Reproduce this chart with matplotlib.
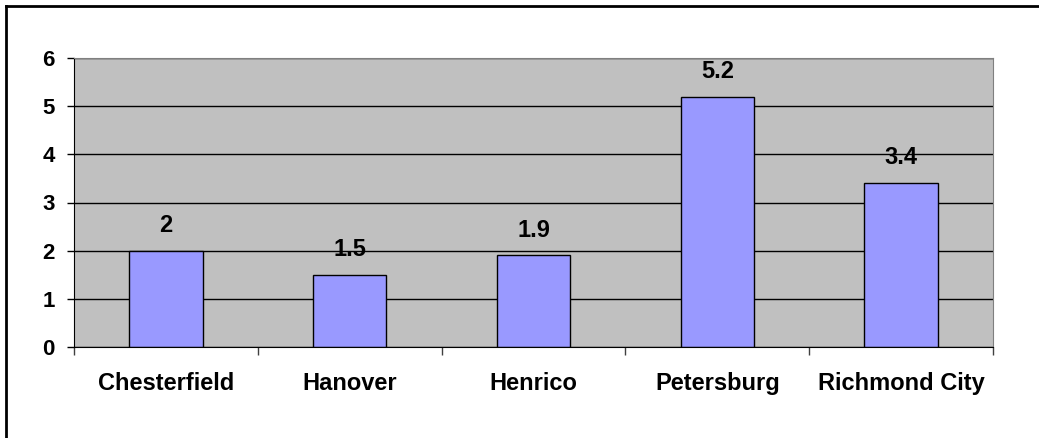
import numpy as np
import matplotlib.pyplot as plt
from matplotlib.lines import Line2D

counties = ['Chesterfield', 'Hanover', 'Henrico', 'Petersburg', 'Richmond City']
values = [2, 1.5, 1.9, 5.2, 3.4]
yticks = [0, 1, 2, 3, 4, 5, 6]

plt.rcParams['font.family'] = 'Liberation Sans'
plt.rcParams['font.weight'] = 'bold'

W, H = 1039, 438
fig = plt.figure(figsize=(W/100, H/100), dpi=100)
ax = fig.add_axes([74/W, 1-347/H, (993-74)/W, (347-58)/H])

x = np.arange(len(counties))
ax.set_facecolor('#c0c0c0')
bars = ax.bar(x, values, width=0.4, color='#9999ff', edgecolor='black', linewidth=1, zorder=2)

# value labels above each bar
for xi, v in zip(x, values):
    ax.annotate('%g' % v, (xi, v), xytext=(0, 13.5), textcoords='offset points',
                ha='center', va='baseline', fontsize=17, fontweight='bold', zorder=4)

ax.set_xlim(-0.5, len(counties)-0.5)
ax.set_ylim(0, 6)
ax.set_yticks(yticks)
ax.yaxis.grid(True, color='black', linewidth=1, zorder=1)
ax.set_axisbelow(True)
ax.tick_params(axis='y', direction='out', length=5, width=1, pad=9, labelsize=16)

# category boundaries get the tick marks, names sit at the centres
ax.set_xticks(np.arange(len(counties)+1)-0.5)
ax.set_xticklabels([])
ax.set_xticks(x, minor=True)
ax.set_xticklabels(counties, minor=True, fontsize=17, fontweight='bold')
ax.tick_params(axis='x', which='major', direction='out', length=6, width=1, color='#404040')
ax.tick_params(axis='x', which='minor', length=0, pad=18)

for s in ['top', 'right']:
    ax.spines[s].set_color('#808080')
for s in ['left', 'bottom']:
    ax.spines[s].set_color('black')

# chart frame (left and top edges)
fig.add_artist(Line2D([6/W, 6/W], [0, 1-6/H], color='black', linewidth=2))
fig.add_artist(Line2D([6/W, 1], [1-6/H, 1-6/H], color='black', linewidth=2))

fig.savefig('out.png', dpi=100)
